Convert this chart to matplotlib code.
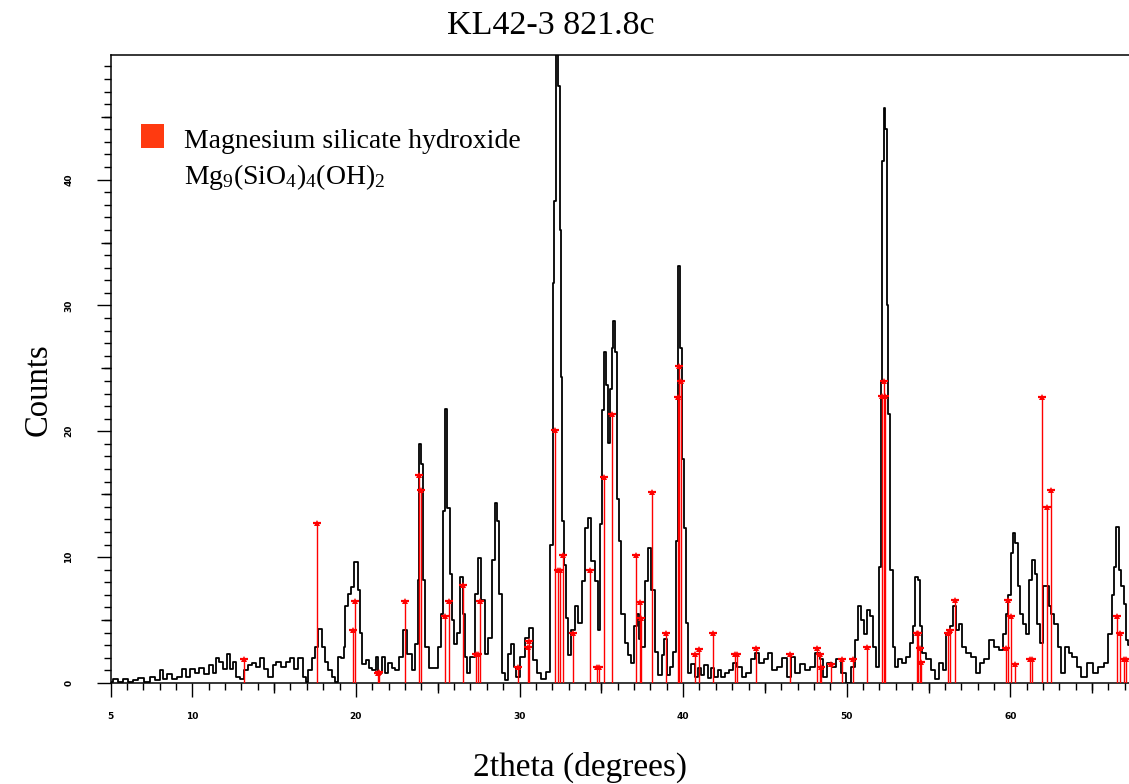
import matplotlib
matplotlib.use("Agg")
import matplotlib.pyplot as plt
from matplotlib.patches import Rectangle

plt.rcParams.update({
    "font.family": ["Liberation Serif", "DejaVu Serif"],
    "mathtext.fontset": "custom",
    "mathtext.rm": "Liberation Serif",
    "mathtext.default": "regular",
    "figure.facecolor": "white",
    "axes.facecolor": "white",
    "savefig.facecolor": "white",
    "axes.edgecolor": "black",
    "axes.linewidth": 1.1,
})

W, H = 1129, 784          # output size in px (dpi 100)
RED = "#ff0000"
LEG_RED = "#ff3a10"

TWO_THETA = [
    5.0, 5.3, 5.6, 5.9, 6.2, 6.5, 6.9, 7.2, 7.6, 7.9, 8.1, 8.3, 8.6, 8.9,
    9.2, 9.5, 9.7, 10.05, 10.3, 10.56, 10.87, 11.17, 11.4, 11.5, 11.8, 12.0,
    12.2, 12.4, 12.6, 12.8, 13.0, 13.27, 13.5, 13.8, 14.0, 14.3, 14.5, 14.8,
    15.04, 15.24, 15.55, 15.86, 16.1, 16.37, 16.6, 16.9, 17.0, 17.2, 17.4,
    17.6, 17.8, 18.0, 18.2, 18.4, 18.65, 18.8, 18.97, 19.2, 19.3, 19.4, 19.6,
    19.8, 20.0, 20.2, 20.3, 20.5, 20.7, 20.9, 21.1, 21.3, 21.45, 21.7, 21.85,
    22.1, 22.3, 22.5, 22.8, 23.0, 23.3, 23.5, 23.7, 23.85, 23.92, 24.02,
    24.15, 24.3, 24.6, 24.95, 25.1, 25.3, 25.4, 25.52, 25.65, 25.8, 25.9,
    26.1, 26.3, 26.48, 26.6, 26.7, 26.9, 27.1, 27.4, 27.58, 27.75, 28.0,
    28.2, 28.4, 28.58, 28.7, 28.8, 29.0, 29.2, 29.4, 29.6, 29.7, 29.9, 30.2,
    30.5, 30.7, 30.9, 31.2, 31.45, 31.75, 31.96, 32.1, 32.16, 32.25, 32.4,
    32.5, 32.58, 32.66, 32.77, 32.87, 33.07, 33.28, 33.48, 33.69, 33.89,
    34.1, 34.3, 34.5, 34.71, 34.87, 35.01, 35.11, 35.21, 35.36, 35.48, 35.56,
    35.69, 35.76, 35.89, 35.99, 36.13, 36.33, 36.54, 36.74, 36.94, 37.1,
    37.25, 37.35, 37.56, 37.76, 37.96, 38.17, 38.37, 38.58, 38.78, 38.94,
    39.08, 39.29, 39.49, 39.64, 39.76, 39.9, 40.0, 40.1, 40.25, 40.4, 40.6,
    40.8, 41.0, 41.2, 41.4, 41.6, 41.8, 42.0, 42.24, 42.45, 42.65, 42.96,
    43.16, 43.47, 43.67, 43.97, 44.28, 44.48, 44.79, 45.1, 45.3, 45.6, 45.9,
    46.2, 46.5, 46.7, 47.0, 47.3, 47.6, 47.9, 48.25, 48.46, 48.66, 48.97,
    49.27, 49.47, 49.78, 50.19, 50.39, 50.6, 50.8, 50.96, 51.1, 51.37, 51.5,
    51.7, 51.9, 52.07, 52.15, 52.22, 52.3, 52.4, 52.5, 52.6, 52.7, 52.9,
    53.04, 53.24, 53.55, 53.75, 53.96, 54.12, 54.27, 54.4, 54.5, 54.67,
    54.98, 55.28, 55.49, 55.79, 56.0, 56.2, 56.4, 56.6, 56.75, 56.96, 57.16,
    57.42, 57.73, 58.03, 58.24, 58.55, 58.85, 59.16, 59.46, 59.66, 59.8,
    59.97, 60.1, 60.23, 60.38, 60.52, 60.68, 60.9, 61.03, 61.2, 61.4, 61.56,
    61.7, 61.9, 62.1, 62.3, 62.4, 62.6, 62.8, 63.0, 63.2, 63.5, 63.7, 63.9,
    64.2, 64.5, 64.9, 65.2, 65.5, 65.9, 66.1, 66.3, 66.4, 66.55, 66.7, 66.85,
    67.0, 67.1, 67.3, 67.6,
]
COUNTS = [
    0.1, 0.3, 0.1, 0.3, 0.1, 0.2, 0.4, 0.1, 0.5, 0.2, 1.0, 0.3, 0.7, 0.3,
    0.5, 1.1, 0.5, 1.1, 0.8, 1.2, 0.7, 1.4, 0.8, 2.0, 1.7, 1.1,
    2.3, 1.1, 1.7, 0.5, 0.3, 1.0, 1.4, 1.6, 1.3, 2.0, 1.1, 0.5,
    1.4, 1.7, 1.3, 1.7, 2.0, 1.1, 2.0, 0.5, 0.1, 1.0, 2.0,
    2.9, 4.3, 2.9, 1.7, 1.0, 0.5, 0.1, 2.1, 2.0, 2.9, 6.1, 7.1,
    7.6, 9.6, 7.4, 4.0, 1.5, 1.8, 1.2, 1.0, 2.1, 0.8, 2.1, 0.8,
    1.6, 1.2, 1.0, 2.1, 4.2, 2.3, 1.0, 3.1, 8.2, 19.0, 17.4,
    8.2, 2.9, 1.2, 1.2, 2.9, 5.5, 13.7, 21.8, 13.9, 8.7, 5.0,
    3.1, 4.0, 8.4, 5.5, 2.1, 0.8, 2.1, 7.1, 9.9, 6.6, 2.3,
    3.6, 9.8, 14.3, 12.9, 7.1, 0.8, 0.2, 2.3, 3.1, 1.3, 0.5, 2.1,
    3.6, 4.4, 1.8, 0.8, 0.3, 0.9, 11.0, 31.8, 38.3, 52.0, 47.4,
    36.0, 24.3, 12.9, 9.4, 5.2, 2.2, 4.2, 6.1, 4.8, 8.1,
    12.3, 13.1, 9.7, 8.1, 4.2, 12.6, 21.7, 26.3, 23.7, 19.1, 23.4,
    26.6, 28.8, 26.3, 14.6, 11.3, 5.5, 3.2, 2.2, 1.6, 4.5,
    5.5, 3.5, 2.9, 8.1, 10.7, 7.4, 2.5, 0.6, 2.2, 3.5,
    0.6, 1.3, 2.5, 11.3, 33.1, 26.6, 17.8, 12.3, 4.8, 0.8, 1.5,
    0.5, 1.2, 0.6, 1.4, 0.4, 1.2, 0.5, 1.0, 0.5, 0.8, 1.0,
    1.6, 1.3, 0.5, 0.8, 1.9, 2.4, 1.6, 1.9, 2.4, 1.0, 1.3,
    2.0, 0.5, 2.1, 0.8, 1.5, 1.0, 1.3, 2.4, 1.9, 0.5, 1.6,
    1.3, 1.9, 0.8, 0.0, 1.3, 3.4, 6.1, 5.0, 3.9, 5.8, 5.3,
    2.9, 1.3, 9.2, 24.0, 41.5, 45.7, 44.0, 30.0, 21.4, 9.0, 2.9,
    1.3, 1.9, 1.6, 2.1, 3.2, 4.5, 8.4, 8.2, 4.5, 2.4,
    1.9, 1.0, 0.3, 1.6, 1.0, 3.9, 4.5, 6.1, 4.2, 4.7, 2.9,
    2.4, 2.1, 0.8, 1.6, 1.9, 3.4, 2.9, 2.6, 3.9, 5.5,
    7.0, 10.3, 11.9, 11.1, 7.7, 5.5, 4.7, 3.9, 8.2, 9.8, 8.7,
    4.7, 3.2, 7.7, 7.7, 6.1, 5.5, 4.7, 2.9, 0.8, 2.9, 2.4, 2.1,
    1.3, 0.5, 1.6, 0.8, 1.3, 1.6, 3.9, 7.0, 9.2, 12.4, 9.0, 7.7,
    6.3, 3.4, 3.0, 3.0,
]

# reference pattern: Mg9(SiO4)4(OH)2 stick positions and heights
STICK_2THETA = [
    13.15, 17.6, 19.85, 19.95, 21.35, 21.4, 23.0, 23.88, 23.95, 25.45, 25.7,
    26.55, 27.35, 27.45, 27.6, 29.9, 30.5, 30.6, 32.16, 32.36, 32.5, 32.63,
    33.28, 34.3, 34.75, 34.85, 35.15, 35.68, 37.15, 37.35, 37.45, 38.07,
    38.98, 39.66, 39.76, 39.9, 40.71, 40.98, 41.83, 43.2, 43.3, 44.43, 46.56,
    48.2, 48.35, 48.45, 49.07, 49.74, 50.4, 51.27, 52.15, 52.25, 52.35,
    54.3, 54.37, 54.47, 54.52, 56.2, 56.3, 56.6, 59.73, 59.87, 60.07, 60.27,
    61.2, 61.3, 61.95, 62.27, 62.47, 66.55, 66.7, 66.96, 67.1,
]
STICK_COUNTS = [
    1.9, 12.7, 4.2, 6.5, 0.8, 0.9, 6.5, 16.5, 15.3, 5.3, 6.5,
    7.8, 2.3, 2.3, 6.5, 1.3, 2.9, 3.3, 20.1, 9.0, 9.0, 10.2,
    4.0, 9.0, 1.3, 1.3, 16.4, 21.4, 10.2, 6.4, 5.2, 15.2,
    4.0, 22.7, 25.2, 24.0, 2.3, 2.7, 4.0, 2.3, 2.3, 2.8, 2.3,
    2.8, 2.3, 1.3, 1.5, 1.9, 1.9, 2.9, 22.8, 24.0, 22.8,
    4.0, 4.0, 2.8, 1.7, 4.0, 4.2, 6.6, 2.8, 6.6, 5.3, 1.5,
    1.9, 1.9, 22.7, 14.0, 15.3, 5.3, 4.0, 1.9, 1.9,
]

X_TICKS = [5, 10, 20, 30, 40, 50, 60]
X_MID = [15, 25, 35, 45, 55, 65]
Y_TICKS = [0, 10, 20, 30, 40]
Y_MID = [5, 15, 25, 35, 45]

TITLE = "KL42-3 821.8c"
X_LABEL = "2theta (degrees)"
Y_LABEL = "Counts"
PHASE = "Magnesium silicate hydroxide"
FORMULA = "Mg$_9$(SiO$_4$)$_4$(OH)$_2$"

fig = plt.figure(figsize=(W / 100, H / 100), dpi=100)
left, right, top, bottom = 110.5, 1135.0, 55.0, 683.0
ax = fig.add_axes([left / W, 1 - bottom / H, (right - left) / W,
                   (bottom - top) / H])

ax.plot(TWO_THETA, COUNTS, color="black", lw=1.3, drawstyle="steps-mid",
        zorder=2)
ax.vlines(STICK_2THETA, 0, STICK_COUNTS, color=RED, lw=1.0, zorder=3)
ax.plot(STICK_2THETA, STICK_COUNTS, ls="none", marker="^", ms=4.8,
        color=RED, mew=0, zorder=4)
ax.plot(STICK_2THETA, STICK_COUNTS, ls="none", marker="_", ms=5.5,
        mew=1.6, color=RED, zorder=4)

ax.set_xlim(5, 5 + (right - left) / 16.36)
ax.set_ylim(0, (bottom - top) / 12.585)
ax.spines["right"].set_visible(False)

tick_font = dict(family="DejaVu Sans", size=6.5, weight="bold")
ax.set_xticks(X_TICKS)
ax.set_xticklabels([str(t) for t in X_TICKS], fontdict=tick_font)
ax.set_xticks(range(5, 68), minor=True)
ax.set_yticks(Y_TICKS)
ax.set_yticklabels([str(t) for t in Y_TICKS], fontdict=tick_font,
                   rotation=90, va="center")
ax.set_yticks(range(0, 50), minor=True)
ax.tick_params(which="major", length=9.8, width=1.0, color="black")
ax.tick_params(which="minor", length=4.8, width=1.0, color="black")
ax.tick_params(axis="x", which="major", pad=11)
ax.tick_params(axis="y", which="major", pad=17)

# in-between ticks at the fives, a size between major and minor
secx = ax.secondary_xaxis("bottom")
secx.set_xticks(X_MID)
secx.tick_params(length=7.2, width=1.0, labelbottom=False)
secx.spines["bottom"].set_visible(False)
secy = ax.secondary_yaxis("left")
secy.set_yticks(Y_MID)
secy.tick_params(length=7.2, width=1.0, labelleft=False)
secy.spines["left"].set_visible(False)

fig.text(551 / W, 1 - 34 / H, TITLE, ha="center", va="baseline",
         fontsize=24.5)
fig.text(38 / W, 1 - 390 / H, Y_LABEL, ha="center", va="center",
         rotation=90, fontsize=23.5)
fig.text(580 / W, 1 - 776 / H, X_LABEL, ha="center", va="baseline",
         fontsize=24)

fig.add_artist(Rectangle((141 / W, 1 - 147.5 / H), 22.6 / W, 23.5 / H,
                         transform=fig.transFigure, color=LEG_RED, lw=0))
fig.text(184 / W, 1 - 148 / H, PHASE, ha="left", va="baseline", fontsize=20)
fig.text(184 / W, 1 - 184 / H, FORMULA, ha="left", va="baseline",
         fontsize=20)

fig.savefig("out.png", dpi=100)
